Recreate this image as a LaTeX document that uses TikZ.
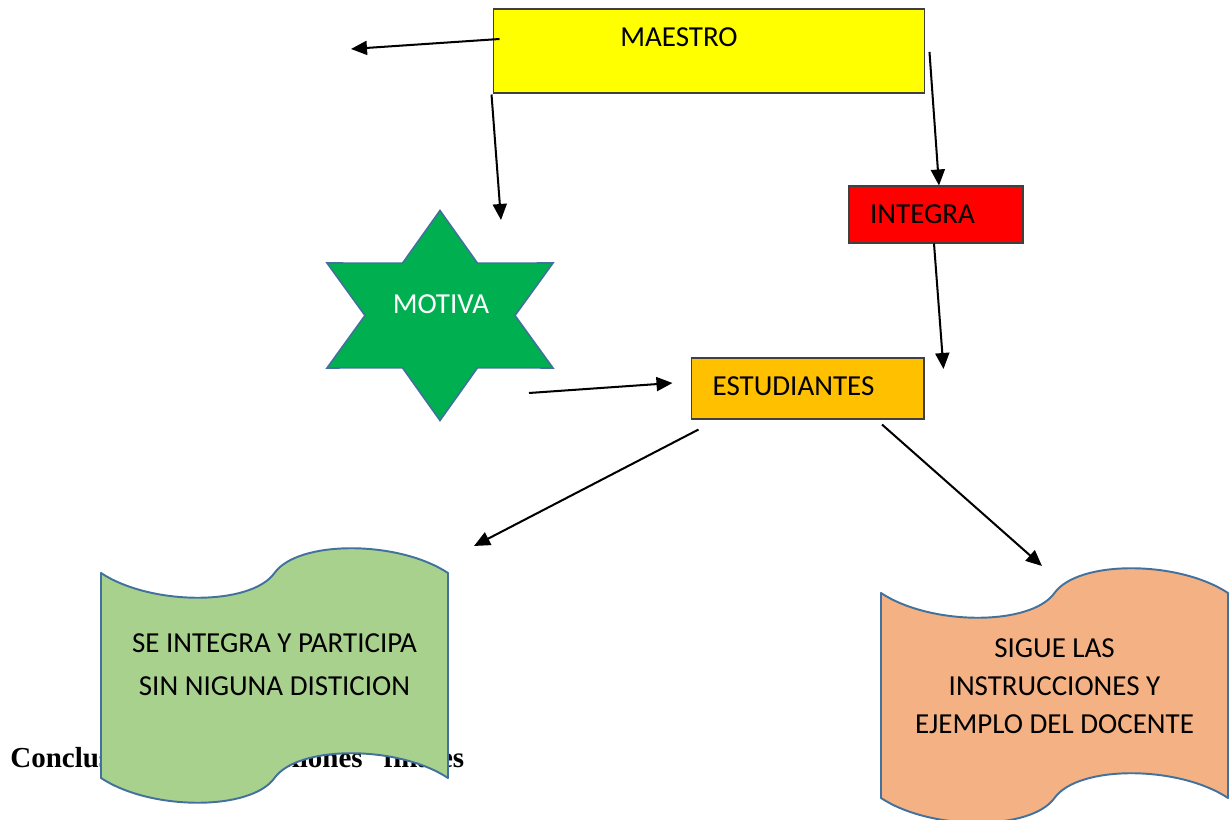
\documentclass[tikz,border=0pt]{standalone}
\usepackage{fontspec}
\setmainfont{Carlito}
\newfontfamily\titulofont{Liberation Serif}
\usetikzlibrary{arrows.meta,calc}

\definecolor{amarillo}{HTML}{FFFF00}
\definecolor{rojo}{HTML}{FF0000}
\definecolor{naranja}{HTML}{FFC000}
\definecolor{verde}{HTML}{00B050}
\definecolor{verdeclaro}{HTML}{A9D18E}
\definecolor{salmon}{HTML}{F4B183}
\definecolor{borde}{HTML}{41719C}

\begin{document}
\begin{tikzpicture}[x=0.02cm, y=-0.02cm,
		letra/.style={font=\fontsize{16.5}{20}\selectfont},
		caja/.style={draw=black!75, line width=0.6pt, inner sep=0pt},
		flecha/.style={-{Triangle[length=3.2mm,width=2.8mm]}, line width=1.15pt},
		bandera/.style={draw=borde, line width=1.1pt, line join=round}]
	\useasboundingbox (0,0) rectangle (1232,820);

	% titulo del documento, tapado por la bandera
	\node[anchor=base west, inner sep=0pt, font=\titulofont\bfseries\fontsize{16.5}{20}\selectfont] (cierre) at (10,768)
		{Conclusiones\hspace{0.42cm}y\hspace{0.42cm}reflexiones\hspace{0.42cm}finales};

	% cajas
	\node[caja, fill=amarillo, minimum width=8.64cm, minimum height=1.68cm,
		label={[letra, xshift=-0.6cm, yshift=0.27cm]center:MAESTRO}] (maestro) at (709,51) {};
	\node[caja, fill=rojo, minimum width=3.48cm, minimum height=1.14cm,
		label={[letra, xshift=-0.27cm]center:INTEGRA}] (integra) at (936,214.5) {};
	\node[caja, fill=naranja, minimum width=4.66cm, minimum height=1.22cm,
		label={[letra, xshift=-0.28cm, yshift=0.04cm]center:ESTUDIANTES}] (estudiantes) at (807.5,388.5) {};

	% estrella
	\coordinate (centro) at (440,315.5);
	\draw[fill=verde, draw=borde, line width=0.9pt, line join=miter]
		($(centro)+(90:130.5 and 105)$)
		\foreach \k [evaluate=\k as \r using {mod(\k,2)==0 ? 1 : 0.575}] in {1,...,11}
			{ -- ($(centro)+(90+30*\k:{130.5*\r} and {105*\r})$) } -- cycle;
	\node[letra, text=white] (motiva) at (441,304.5) {MOTIVA};

	% banderas
	\foreach \xa/\ya/\col in {101/573/verdeclaro, 881/593/salmon}
		\draw[bandera, fill=\col] (\xa,\ya)
			.. controls ({\xa+50},{\ya+33}) and ({\xa+150},{\ya+33}) .. ({\xa+173.5},\ya)
			.. controls ({\xa+197},{\ya-33}) and ({\xa+297},{\ya-33}) .. ({\xa+347},\ya)
			-- ({\xa+347},{\ya+205})
			.. controls ({\xa+297},{\ya+172}) and ({\xa+197},{\ya+172}) .. ({\xa+173.5},{\ya+205})
			.. controls ({\xa+150},{\ya+238}) and ({\xa+50},{\ya+238}) .. (\xa,{\ya+205})
			-- cycle;
	\node[letra, align=center, font=\fontsize{16.5}{24.75}\selectfont] (participa) at (274.5,664.5)
		{SE INTEGRA Y PARTICIPA\\SIN NIGUNA DISTICION};
	\node[letra, align=center, font=\fontsize{16.5}{21.6}\selectfont] (sigue) at (1054.5,686.5)
		{SIGUE LAS\\INSTRUCCIONES Y\\EJEMPLO DEL DOCENTE};

	% extremos libres
	\coordinate (izq) at (351,49);
	\coordinate (arriba) at (501,220);
	\coordinate (salida) at (529,393);
	\coordinate (bajaizq) at (474,546);
	\coordinate (bajader) at (1042,566);

	% flechas
	\draw[flecha] ($(maestro.west)+(7,-12)$) -- (izq);
	\draw[flecha] ($(maestro.south west)+(-1,1)$) -- (arriba);
	\draw[flecha] ($(maestro.east)+(4,1)$) -- ($(integra.north)+(3,0)$);
	\draw[flecha] ($(integra.south)+(-2,0)$) -- ($(estudiantes.east)+(19,-19.5)$);
	\draw[flecha] (salida) -- ($(estudiantes.west)+(-18,-5.5)$);
	\draw[flecha] ($(estudiantes.south west)+(8,10)$) -- (bajaizq);
	\draw[flecha] ($(estudiantes.south)+(74.5,5)$) -- (bajader);
\end{tikzpicture}
\end{document}
